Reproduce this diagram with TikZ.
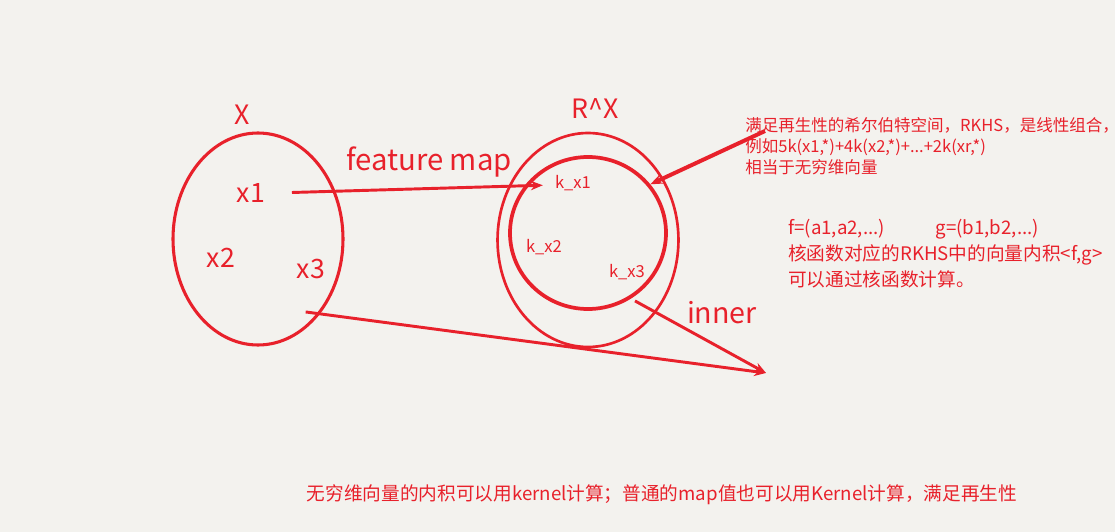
\documentclass[tikz,border=0pt]{standalone}
\usepackage{fontspec}
\setmainfont{Noto Sans CJK SC}
\usepackage{tikz}
\usetikzlibrary{positioning,arrows.meta,shapes.geometric,calc}
\definecolor{inkred}{HTML}{E8212B}
\definecolor{paper}{HTML}{F3F2EE}
\tikzset{
  setring/.style={ellipse, draw=inkred, line width=2.3pt, inner sep=0pt},
  lbl/.style={text=inkred, inner sep=0pt, anchor=base, font=\fontsize{#1}{#1}\selectfont},
  note/.style={text=inkred, inner sep=0pt, anchor=base west, align=left, font=#1},
  ar/.style={-{Stealth[length=9pt,width=7pt]}, line width=#1, draw=inkred},
}

\begin{document}
\begin{tikzpicture}[x=0.75pt,y=-0.75pt]
  \fill[paper] (0,0) rectangle (1115,532);
  \useasboundingbox (0,0) rectangle (1115,532);

  % the set X
  \node[setring, minimum width=127.5pt, minimum height=159pt] (setx) at (258,239) {};
  \node[lbl=20] (xname) at (242,124) {X};
  \node[lbl=20] (x1) at (251,202) {x1};
  \node[lbl=20] (x2) at (221,267) {x2};
  \node[lbl=20] (x3) at (311,278) {x3};

  % the space R^X and the RKHS inside it
  \node[setring, line width=2pt, minimum width=135.7pt, minimum height=160.5pt] (rx) at (588,240) {};
  \node[setring, line width=2.8pt, minimum width=117pt, minimum height=114pt] (rkhs) at (588,233) {};
  \node[lbl=20] (rxname) at (595,118) {R\^{}X};
  \node[lbl=12.4] (kx1) at (573,188) {k\_x1};
  \node[lbl=12.4] (kx2) at (544,252) {k\_x2};
  \node[lbl=12.4] (kx3) at (627,277) {k\_x3};

  % feature map
  \node[lbl=22] (fmap) at (429,170) {feature map};
  \draw[ar=2.2pt] ([xshift=20]x1.east) -- ([xshift=-9,yshift=-2]kx1.west);

  % inner product
  \coordinate (meet) at (766,373);
  \node[lbl=21.5] (inner) at (722,323) {inner};
  \draw[ar=2.2pt] ([xshift=-4,yshift=-25]x3.south) -- (meet);
  \draw[ar=2.2pt] ([xshift=6,yshift=-16]kx3.south) -- (meet);

  % notes
  \node[note={\fontsize{12.4}{15.4}\selectfont}] (rkhsnote) at (745,173)
    {满足再生性的希尔伯特空间，RKHS，是线性组合，\\
     例如5k(x1,*)+4k(x2,*)+...+2k(xr,*)\\
     相当于无穷维向量};
  \coordinate (notefoot) at (765,131);
  \draw[ar=3pt] (notefoot) -- (rkhs.38);

  \node[note={\fontsize{14}{19.2}\selectfont}] (innernote) at (788,286)
    {f=(a1,a2,...)\hspace{38pt}g=(b1,b2,...)\\
     核函数对应的RKHS中的向量内积<f,g>\\
     可以通过核函数计算。};

  \node[lbl=14] (summary) at (662,500)
    {无穷维向量的内积可以用kernel计算；普通的map值也可以用Kernel计算，满足再生性};
\end{tikzpicture}
\end{document}
